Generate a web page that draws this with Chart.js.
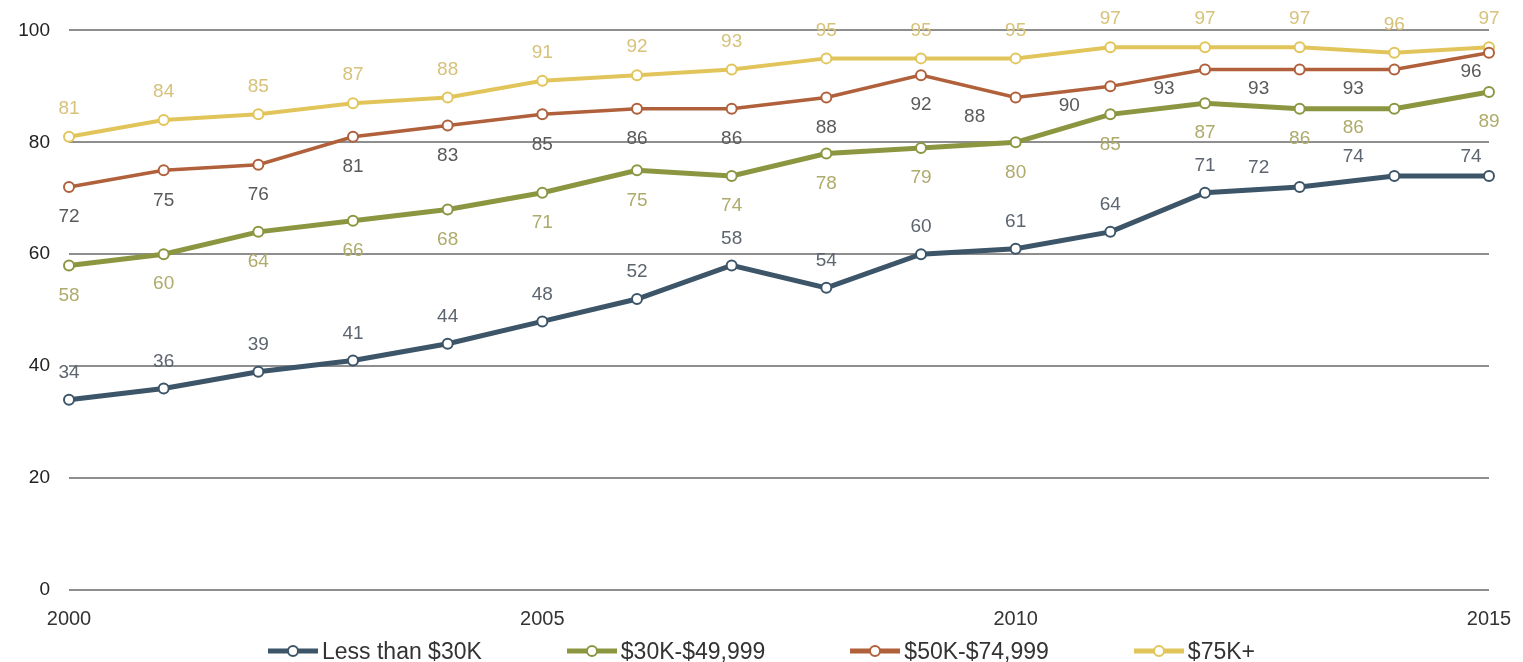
<!DOCTYPE html>
<html>
<head>
<meta charset="utf-8">
<title>Income groups 2000-2015</title>
<script src="https://cdn.jsdelivr.net/npm/chart.js@4.4.1/dist/chart.umd.min.js"></script>
<style>
  body { margin: 0; background: #fff; }
  #wrap { position: relative; width: 1523px; height: 662px; }
  #legend {
    position: absolute; left: 0; right: 0; top: 638px;
    display: flex; justify-content: center; gap: 85px;
    font: 23px "Liberation Sans", Arial, sans-serif; color: #333; line-height: 26px;
  }
  #legend .item { display: flex; align-items: center; gap: 4px; }
</style>
</head>
<body>
<div id="wrap">
  <canvas id="myChart" width="1523" height="662"></canvas>
  <div id="legend"></div>
</div>
<script>
// data
const years = [2000, 2001, 2002, 2003, 2004, 2005, 2006, 2007, 2008, 2009, 2010, 2011, 2012, 2013, 2014, 2015];
const lessThan30k = [34, 36, 39, 41, 44, 48, 52, 58, 54, 60, 61, 64, 71, 72, 74, 74];
const from30kTo50k = [58, 60, 64, 66, 68, 71, 75, 74, 78, 79, 80, 85, 87, 86, 86, 89];
const from50kTo75k = [72, 75, 76, 81, 83, 85, 86, 86, 88, 92, 88, 90, 93, 93, 93, 96];
const over75k = [81, 84, 85, 87, 88, 91, 92, 93, 95, 95, 95, 97, 97, 97, 96, 97];
const seriesNames = ['Less than $30K', '$30K-$49,999', '$50K-$74,999', '$75K+'];
const xTicks = [2000, 2005, 2010, 2015];
const yTicks = [0, 20, 40, 60, 80, 100];

const FONT = '"Liberation Sans", Arial, sans-serif';

// line colour, label colour, label side, indexes whose label is pushed to the left
const styles = [
  { line: '#3d5568', text: '#5d6570', width: 5, dy: -27, nudged: [13, 14, 15] },
  { line: '#8c9640', text: '#aeab6c', width: 5, dy: 30, nudged: [14] },
  { line: '#b0603a', text: '#5a5a5a', width: 3.5, dy: 30, nudged: [10, 11, 12, 13, 14, 15] },
  { line: '#e2c55a', text: '#d6c27a', width: 4, dy: -28, nudged: [] }
];

const seriesValues = [lessThan30k, from30kTo50k, from50kTo75k, over75k];

const datasets = seriesValues.map((values, i) => ({
  label: seriesNames[i],
  data: years.map((yr, j) => ({ x: yr, y: values[j] })),
  borderColor: styles[i].line,
  borderWidth: styles[i].width,
  pointRadius: 5,
  pointBorderWidth: 2,
  pointBackgroundColor: '#fff',
  pointBorderColor: styles[i].line,
  tension: 0,
  clip: false
}));

// value labels next to each point
const pointLabels = {
  id: 'pointLabels',
  afterDatasetsDraw(chart) {
    const ctx = chart.ctx;
    ctx.save();
    ctx.font = '19px ' + FONT;
    ctx.textAlign = 'center';
    ctx.textBaseline = 'middle';
    chart.data.datasets.forEach((ds, i) => {
      const st = styles[i];
      const meta = chart.getDatasetMeta(i);
      ctx.fillStyle = st.text;
      meta.data.forEach((pt, j) => {
        let dx = 0, dy = st.dy;
        if (st.nudged.includes(j)) {
          dx = j === meta.data.length - 1 ? -18 : -41;
          dy = Math.sign(st.dy) * 19;
        }
        ctx.fillText(String(ds.data[j].y), pt.x + dx, pt.y + dy);
      });
    });
    ctx.restore();
  }
};

const myChart = new Chart(document.getElementById('myChart'), {
  type: 'line',
  data: { datasets: datasets },
  options: {
    responsive: false,
    animation: false,
    events: [],
    layout: { padding: { left: 0, right: 34, top: 30, bottom: 22 } },
    plugins: { legend: { display: false }, tooltip: { enabled: false } },
    scales: {
      x: {
        type: 'linear',
        min: 2000,
        max: 2015,
        afterBuildTicks: scale => { scale.ticks = xTicks.map(v => ({ value: v })); },
        grid: { display: false },
        border: { display: false },
        ticks: { color: '#333', font: { family: FONT, size: 20 }, padding: 9, callback: v => String(v) }
      },
      y: {
        min: 0,
        max: 100,
        afterBuildTicks: scale => { scale.ticks = yTicks.map(v => ({ value: v })); },
        afterFit: scale => { scale.width = 69; },
        grid: { color: '#8e8e8e', lineWidth: 2, drawTicks: false },
        border: { display: false },
        ticks: { color: '#222', font: { family: FONT, size: 19 }, padding: 19 }
      }
    }
  },
  plugins: [pointLabels]
});

// legend under the chart
const legend = document.getElementById('legend');
seriesNames.forEach((name, i) => {
  const c = styles[i].line;
  const item = document.createElement('div');
  item.className = 'item';
  item.innerHTML =
    '<svg width="50" height="14"><line x1="0" y1="7" x2="50" y2="7" stroke="' + c + '" stroke-width="5"/>' +
    '<circle cx="25" cy="7" r="5" fill="#fff" stroke="' + c + '" stroke-width="2"/></svg>' +
    '<span>' + name + '</span>';
  legend.appendChild(item);
});
</script>
</body>
</html>
